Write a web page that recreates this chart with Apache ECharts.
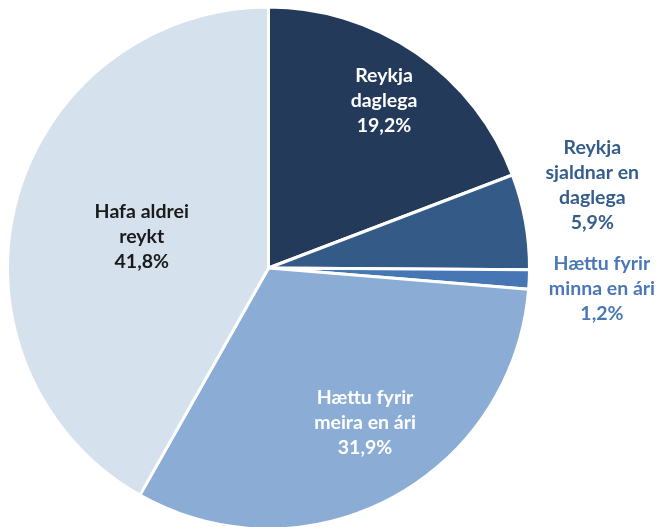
<!DOCTYPE html>
<html>
<head>
<meta charset="utf-8">
<script src="https://cdn.jsdelivr.net/npm/echarts@6/dist/echarts.min.js"></script>
<style>
  html, body { margin: 0; padding: 0; background: #fff; }
  #chart { width: 660px; height: 527px; }
</style>
</head>
<body>
<div id="chart"></div>
<script>
let categories = ['Reykja\ndaglega', 'Reykja\nsjaldnar en\ndaglega', 'Hættu fyrir\nminna en ári', 'Hættu fyrir\nmeira en ári', 'Hafa aldrei\nreykt']
let values = [19.2, 5.9, 1.2, 31.9, 41.8]
let colors = ['#243a5a', '#345a88', '#4677b4', '#8aacd5', '#d6e1ee']
let labelColors = ['#ffffff', '#355d8c', '#4a78b6', '#ffffff', '#1a1a1a']
// label spot: fraction of radius from centre, and extra angle (deg)
let labelSpot = [[0.78, 0], [1.28, 4], [1.28, -1], [0.7, 4], [0.5, 1]]

let cx = 268.5
let cy = 268
let R = 261

let chart = echarts.init(document.getElementById('chart'))
let total = values.reduce((a, b) => a + b, 0)

function midAngle(i) {
  let before = 0
  for (let k = 0; k < i; k++) before += values[k]
  return 90 - (before + values[i] / 2) / total * 360
}

let option = {
  animation: false,
  series: [
    {
      type: 'pie',
      center: [cx, cy],
      radius: R,
      startAngle: 90,
      clockwise: true,
      itemStyle: { borderColor: '#fff', borderWidth: 3 },
      label: {
        show: true,
        position: 'inside',
        fontFamily: 'Lato',
        fontWeight: 'bold',
        fontSize: 19.5,
        lineHeight: 25,
        align: 'center',
        formatter: function (p) {
          return p.name + '\n' + p.value.toFixed(1).replace('.', ',') + '%'
        },
      },
      labelLine: { show: false },
      labelLayout: function (p) {
        let i = p.dataIndex
        let a = (midAngle(i) + labelSpot[i][1]) * Math.PI / 180
        let r = R * labelSpot[i][0]
        return {
          x: cx + r * Math.cos(a),
          y: cy - r * Math.sin(a),
          align: 'center',
          verticalAlign: 'middle',
        }
      },
      data: categories.map((name, i) => ({
        name: name,
        value: values[i],
        itemStyle: { color: colors[i] },
        label: { color: labelColors[i] },
      })),
    },
  ],
}

chart.setOption(option)
</script>
</body>
</html>
